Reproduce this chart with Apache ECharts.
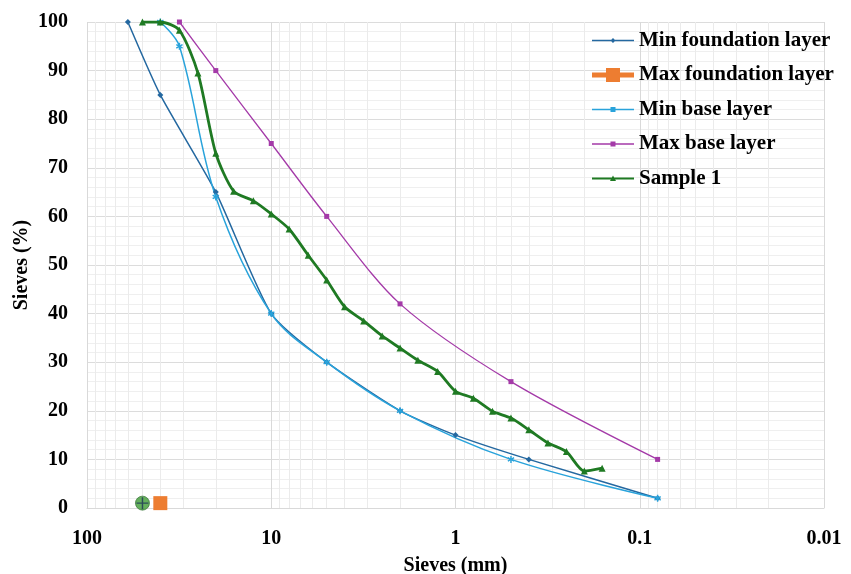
<!DOCTYPE html>
<html>
<head>
<meta charset="utf-8">
<script src="https://cdn.jsdelivr.net/npm/echarts@6/dist/echarts.min.js"></script>
<style>html,body{margin:0;padding:0;background:#fff}#c{width:851px;height:574px}</style>
</head>
<body>
<div id="c"></div>
<script>
// ---- data ----
const minFoundationSizes = [60, 40, 20, 10, 5, 2, 1, 0.4, 0.08];
const minFoundationPass  = [100, 85, 65, 40, 30, 20, 15, 10, 2];
const maxFoundationSizes = [40];
const maxFoundationPass  = [1];
const minBaseSizes = [40, 31.5, 20, 10, 5, 2, 0.5, 0.08];
const minBasePass  = [100, 95, 64, 40, 30, 20, 10, 2];
const maxBaseSizes = [31.5, 20, 10, 5, 2, 0.5, 0.08];
const maxBasePass  = [100, 90, 75, 60, 42, 26, 10];
const sampleSizes = [50, 40, 31.5, 25, 20, 16, 12.5, 10, 8, 6.3, 5, 4, 3.15, 2.5, 2, 1.6, 1.25, 1, 0.8, 0.63, 0.5, 0.4, 0.315, 0.25, 0.2, 0.16];
const samplePass  = [100, 100, 98.3, 89.5, 73, 65.2, 63.2, 60.5, 57.4, 52, 46.9, 41.4, 38.5, 35.4, 32.9, 30.4, 28.1, 24, 22.6, 19.9, 18.5, 16.1, 13.4, 11.6, 7.6, 8.2];
const extraMarkSizes = [50];
const extraMarkPass  = [1];
const minorSieveGrid = [90, 80, 70, 60, 50, 40, 30, 20, 9, 8, 7, 6, 5, 4, 3, 2, 0.9, 0.8, 0.7, 0.6, 0.5, 0.4, 0.3, 0.2, 0.09, 0.08, 0.07, 0.06, 0.05, 0.04, 0.03, 0.02];
const yTicks = [0, 10, 20, 30, 40, 50, 60, 70, 80, 90, 100];
const seriesNames = ['Min foundation layer', 'Max foundation layer', 'Min base layer', 'Max base layer', 'Sample 1'];

const zip = (a, b) => a.map((v, i) => [v, b[i]]);
const FONT = 'Liberation Serif';
const C_MINF = '#2468a0', C_MAXF = '#ed7d31', C_MINB = '#29a3db', C_MAXB = '#a43aa8', C_S1 = '#1f7a23';

const ext = 'M0,0L0.01,0L0,0.01Z M42,14L41.99,14L42,13.99Z ';
const icons = [
  'path://' + ext + 'M0,6.25H42V7.75H0Z M21,4.5L23.5,7L21,9.5L18.5,7Z',
  'path://' + ext + 'M0,4.5H42V9.5H0Z M14,0H28V14H14Z',
  'path://' + ext + 'M0,6.25H42V7.75H0Z M18.5,4.5H23.5V9.5H18.5Z',
  'path://' + ext + 'M0,6.25H42V7.75H0Z M18.5,4.5H23.5V9.5H18.5Z',
  'path://' + ext + 'M0,6H42V8H0Z M21,4L24,9.5H18Z'
];
const iconColors = [C_MINF, C_MAXF, C_MINB, C_MAXB, C_S1];

const chart = echarts.init(document.getElementById('c'), null, {renderer: 'canvas'});
chart.setOption({
  animation: false,
  backgroundColor: '#fff',
  grid: {left: 87, right: 27, top: 22, bottom: 66, containLabel: false, outerBoundsMode: 'none'},
  legend: {
    orient: 'vertical', left: 587, top: 25, itemWidth: 42, itemHeight: 14, itemGap: 13.5,
    textStyle: {fontFamily: FONT, fontWeight: 'bold', fontSize: 21, color: '#000'},
    data: seriesNames.map((n, i) => ({name: n, icon: icons[i], itemStyle: {color: iconColors[i], borderWidth: 0}}))
  },
  xAxis: {
    type: 'log', logBase: 10, min: 0.01, max: 100, inverse: true,
    name: 'Sieves (mm)', nameLocation: 'middle', nameGap: 48,
    nameTextStyle: {fontFamily: FONT, fontWeight: 'bold', fontSize: 20, color: '#000'},
    axisLine: {show: true, lineStyle: {color: '#d9d9d9'}},
    axisTick: {show: false},
    axisLabel: {fontFamily: FONT, fontWeight: 'bold', fontSize: 20, color: '#000', margin: 21},
    splitLine: {show: true, lineStyle: {color: '#d9d9d9', width: 1}}
  },
  yAxis: {
    type: 'value', min: 0, max: 100, interval: 10,
    name: 'Sieves (%)', nameLocation: 'middle', nameGap: 55, nameRotate: 90, nameMoveOverlap: false,
    nameTextStyle: {fontFamily: FONT, fontWeight: 'bold', fontSize: 20, color: '#000'},
    axisLine: {show: false}, axisTick: {show: false},
    axisLabel: {fontFamily: FONT, fontWeight: 'bold', fontSize: 20, color: '#000', margin: 19,
      customValues: yTicks},
    splitLine: {show: true, lineStyle: {color: '#dcdcdc'}},
    minorTick: {show: false, splitNumber: 5},
    minorSplitLine: {show: true, lineStyle: {color: '#efefef'}}
  },
  series: [
    {
      name: '_grid', type: 'line', data: [], silent: true, z: 1,
      markLine: {silent: true, symbol: 'none', label: {show: false}, z: 1,
        lineStyle: {color: '#ebebeb', width: 1, type: 'solid'},
        emphasis: {disabled: true},
        data: minorSieveGrid.map(v => ({xAxis: v}))}
    },
    {
      name: seriesNames[0], type: 'line', data: zip(minFoundationSizes, minFoundationPass), smooth: 0.2,
      symbol: 'diamond', symbolSize: 6, color: C_MINF,
      itemStyle: {color: C_MINF}, lineStyle: {color: C_MINF, width: 1.5}, z: 3
    },
    {
      name: seriesNames[1], type: 'line', data: zip(maxFoundationSizes, maxFoundationPass),
      symbol: 'rect', symbolSize: 14, color: C_MAXF,
      itemStyle: {color: C_MAXF}, lineStyle: {color: C_MAXF, width: 5}, z: 4
    },
    {
      name: seriesNames[2], type: 'line', data: zip(minBaseSizes, minBasePass), smooth: 0.35,
      symbol: 'path://M4,0H6V3.3L8.8,1.6L9.8,3.4L7,5L9.8,6.6L8.8,8.4L6,6.7V10H4V6.7L1.2,8.4L0.2,6.6L3,5L0.2,3.4L1.2,1.6L4,3.3Z',
      symbolSize: 7, color: C_MINB,
      itemStyle: {color: C_MINB}, lineStyle: {color: C_MINB, width: 1.5}, z: 3
    },
    {
      name: seriesNames[3], type: 'line', data: zip(maxBaseSizes, maxBasePass), smooth: 0.3,
      symbol: 'path://M0,0H10V10H0Z', symbolSize: 5, color: C_MAXB,
      itemStyle: {color: C_MAXB}, lineStyle: {color: C_MAXB, width: 1.3}, z: 3
    },
    {
      name: seriesNames[4], type: 'line', data: zip(sampleSizes, samplePass), smooth: 0.25,
      symbol: 'triangle', symbolSize: 7, color: C_S1,
      itemStyle: {color: C_S1}, lineStyle: {color: C_S1, width: 2.8}, z: 5
    },
    {
      name: '_mark', type: 'scatter', data: zip(extraMarkSizes, extraMarkPass),
      symbol: 'circle', symbolSize: 14, itemStyle: {color: '#3e9b34', borderColor: '#2a6a2a', borderWidth: 0.8}, z: 6, silent: true
    },
    {
      name: '_mark2', type: 'scatter', data: zip(extraMarkSizes, extraMarkPass),
      symbol: 'path://M4.4,0H5.6V4.4H10V5.6H5.6V10H4.4V5.6H0V4.4H4.4Z', symbolSize: 12,
      itemStyle: {color: '#1d3557'}, z: 7, silent: true
    }
  ]
});
</script>
</body>
</html>
